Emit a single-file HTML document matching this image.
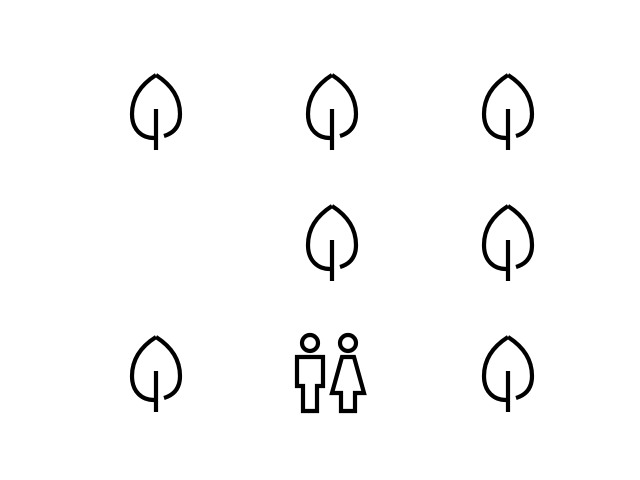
<!DOCTYPE html>
<html><head><meta charset="utf-8"><style>
html,body{margin:0;padding:0;background:#fff;width:640px;height:480px;overflow:hidden}
svg{display:block}
</style></head><body>
<svg id="chart" width="640" height="480" viewBox="0 0 640 480"></svg>
<script>
const cols = [0, 1, 2];
const rows = [0, 1, 2];
const cellIcons = [
  ["leaf", "leaf", "leaf"],
  ["", "leaf", "leaf"],
  ["leaf", "people", "leaf"]
];
const xCenter = c => 156 + c * 176;
const yTop = r => 73 + r * 131;
const NS = "http://www.w3.org/2000/svg";
const svg = document.getElementById("chart");
function mk(tag, attrs, parent) {
  const e = document.createElementNS(NS, tag);
  for (const k in attrs) e.setAttribute(k, attrs[k]);
  parent.appendChild(e);
  return e;
}
rows.forEach(r => cols.forEach(c => {
  const kind = cellIcons[r][c];
  if (!kind) return;
  const g = mk("g", {transform: `translate(${xCenter(c)},${yTop(r)})`, fill: "none", stroke: "#000", "stroke-width": 4.2, "stroke-linejoin": "miter"}, svg);
  
  
  if (kind === "leaf") {
    mk("path", {d: "M0,2 C-11,9 -24,21 -24,41 C-24,57 -14,65 -2,65"}, g);
    mk("path", {d: "M0,2 C11,9 24,21 24,41 C24,53 18,60 8,63"}, g);
    mk("path", {d: "M0,36 L0,77"}, g);
  } else {
    mk("circle", {cx: -22, cy: 270 - 200 - 70 + 8 + 0 + 0 + 1 - 1, r: 8}, g);
    mk("path", {d: "M-35,22 L-9,22 L-9,51 L-15,51 L-15,76 L-29,76 L-29,51 L-35,51 Z"}, g);
    mk("circle", {cx: 16, cy: 8, r: 8}, g);
    mk("path", {d: "M10,22 L22,22 L32,58 L23,58 L23,76 L9,76 L9,58 L0,58 Z"}, g);
  }
}));
</script>
</body></html>
